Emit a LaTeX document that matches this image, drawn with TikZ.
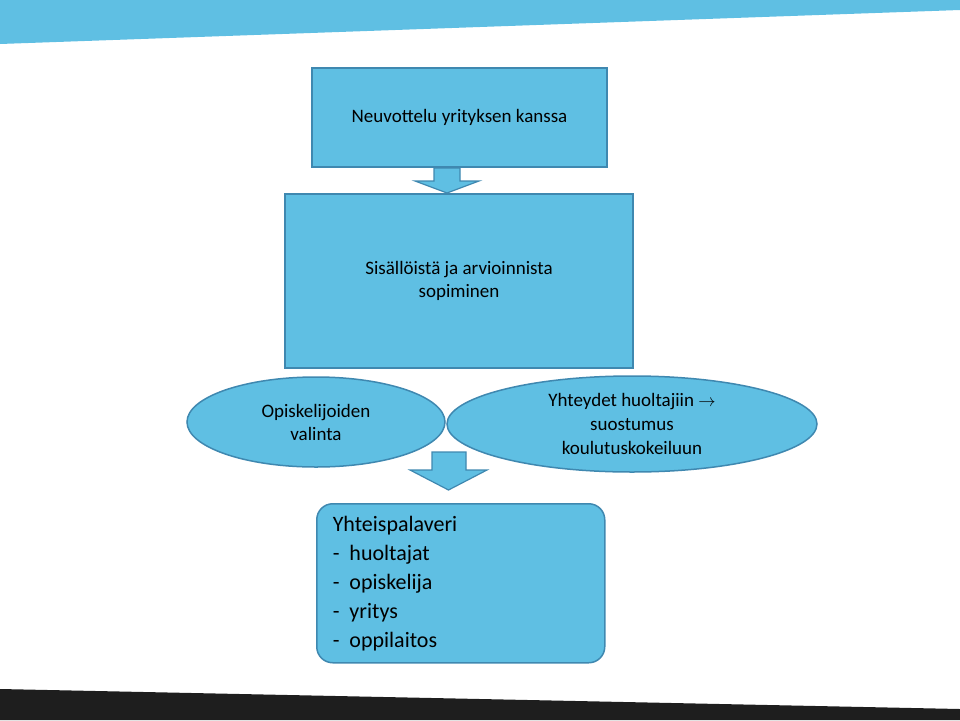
\documentclass[tikz,border=0pt]{standalone}
\usepackage{fontspec}
\usetikzlibrary{shapes.geometric}
\setmainfont{Carlito}
\definecolor{fillb}{HTML}{5FBFE3}
\definecolor{lineb}{HTML}{3F88B0}
\definecolor{dark}{HTML}{1E1E1E}
\tikzset{box/.style={draw=lineb,fill=fillb,line width=1.5pt,align=center,inner sep=0pt},
 arr/.style={draw=lineb,fill=fillb,line width=1.2pt}}
\begin{document}
\begin{tikzpicture}[x=1pt,y=-1pt]
\useasboundingbox (0,0) rectangle (960,720);
\fill[fillb] (0,0) -- (960,0) -- (960,10) -- (0,44) -- cycle;
\fill[dark] (0,689) -- (960,709) -- (960,720) -- (0,720) -- cycle;
\node[box,minimum width=295pt,minimum height=99pt,font=\fontsize{19}{23}\selectfont] (b1) at (459.5,117.5) {Neuvottelu yrityksen kanssa};
\node[box,minimum width=348pt,minimum height=174pt,font=\fontsize{19}{23}\selectfont] (b2) at (459,281) {Sisällöistä ja arvioinnista\\sopiminen};
\node[box,ellipse,minimum width=258pt,minimum height=90pt,font=\fontsize{19}{23}\selectfont] (e1) at (316,422) {Opiskelijoiden\\valinta};
\node[box,ellipse,minimum width=370pt,minimum height=96pt,font=\fontsize{19}{24}\selectfont] (e2) at (632,424) {Yhteydet huoltajiin $\rightarrow$\\suostumus\\koulutuskokeiluun};
\node[box,rounded corners=16pt,minimum width=288pt,minimum height=159pt,font=\fontsize{22}{29}\selectfont,align=left,anchor=north west,text width=288pt] (b3) at (316,503) {\hspace*{16pt}Yhteispalaveri\\\hspace*{16pt}-\hspace{10pt}huoltajat\\\hspace*{16pt}-\hspace{10pt}opiskelija\\\hspace*{16pt}-\hspace{10pt}yritys\\\hspace*{16pt}-\hspace{10pt}oppilaitos};
\draw[arr] (434,168) -- (460,168) -- (460,181) -- (479,181) -- (447,193) -- (415,181) -- (434,181) -- cycle;
\draw[arr] (432,452) -- (466,452) -- (466,470) -- (487,470) -- (448.5,490) -- (410,470) -- (432,470) -- cycle;
\end{tikzpicture}
\end{document}
